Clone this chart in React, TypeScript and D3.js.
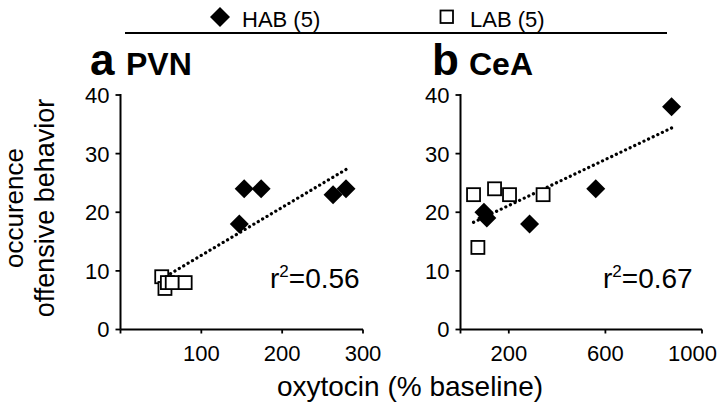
import React from "react";
import * as d3 from "d3";

// ---- data ----
const PVN_HAB_X = [147, 153, 174, 263, 279];
const PVN_HAB_Y = [18, 24, 24, 23, 24];
const PVN_LAB_X = [51, 55, 58, 64, 80];
const PVN_LAB_Y = [9, 7, 8, 8, 8];

const CEA_HAB_X = [97, 109, 286, 560, 874];
const CEA_HAB_Y = [20, 19, 18, 24, 38];
const CEA_LAB_X = [54, 72, 141, 203, 342];
const CEA_LAB_Y = [23, 14, 24, 23, 23];

const Y_TICKS = [0, 10, 20, 30, 40];
const PVN_X_TICKS = [100, 200, 300];
const CEA_X_TICKS = [200, 600, 1000];
const R2_LABELS = ["0.56", "0.67"];
const PANEL_LETTERS = ["a", "b"];
const PANEL_NAMES = ["PVN", "CeA"];
const LEGEND = ["HAB (5)", "LAB (5)"];

const FONT = "'Liberation Sans', Arial, Helvetica, sans-serif";
const TICK_FS = 22;

type Panel = {
  hx: number[]; hy: number[]; lx: number[]; ly: number[];
  domain: [number, number]; range: [number, number]; ticks: number[];
  letter: string; name: string; r2: string;
  letterX: number; nameX: number; r2X: number;
};

const panels: Panel[] = [
  {
    hx: PVN_HAB_X, hy: PVN_HAB_Y, lx: PVN_LAB_X, ly: PVN_LAB_Y,
    domain: [0, 300], range: [120.5, 363], ticks: PVN_X_TICKS,
    letter: PANEL_LETTERS[0], name: PANEL_NAMES[0], r2: R2_LABELS[0],
    letterX: 90, nameX: 126, r2X: 270,
  },
  {
    hx: CEA_HAB_X, hy: CEA_HAB_Y, lx: CEA_LAB_X, ly: CEA_LAB_Y,
    domain: [0, 1000], range: [460.5, 702], ticks: CEA_X_TICKS,
    letter: PANEL_LETTERS[1], name: PANEL_NAMES[1], r2: R2_LABELS[1],
    letterX: 432, nameX: 469, r2X: 603,
  },
];

const y = d3.scaleLinear().domain([0, 40]).range([329.5, 95]);

const diamond = (r: number) => `M0,${-r}L${r},0L0,${r}L${-r},0Z`;

function fit(xs: number[], ys: number[]) {
  const mx = d3.mean(xs) as number;
  const my = d3.mean(ys) as number;
  let sxy = 0, sxx = 0;
  xs.forEach((x, i) => {
    sxy += (x - mx) * (ys[i] - my);
    sxx += (x - mx) * (x - mx);
  });
  const b = sxy / sxx;
  const a = my - b * mx;
  return (x: number) => a + b * x;
}

function PanelView({ p }: { p: Panel }) {
  const x = d3.scaleLinear().domain(p.domain).range(p.range);
  const allX = [...p.hx, ...p.lx];
  const allY = [...p.hy, ...p.ly];
  const f = fit(allX, allY);
  const [x0, x1] = d3.extent(allX) as [number, number];
  const line = d3.line<number>().x((d) => x(d)).y((d) => y(f(d)));
  const ax = p.range[0];
  return (
    <g>
      {/* panel title */}
      <text x={p.letterX} y={75} fontFamily={FONT} fontWeight="bold" fontSize={44}>
        {p.letter}
      </text>
      <text x={p.nameX} y={75} fontFamily={FONT} fontWeight="bold" fontSize={32}>
        {p.name}
      </text>
      {/* y axis */}
      <line x1={ax} x2={ax} y1={y(0)} y2={y(40) - 1} stroke="#000" strokeWidth={2} />
      {Y_TICKS.map((t) => (
        <g key={t}>
          <line x1={ax - 5} x2={ax} y1={y(t)} y2={y(t)} stroke="#000" strokeWidth={1.8} />
          <text x={ax - 11} y={y(t)} dy="0.36em" textAnchor="end" fontFamily={FONT} fontSize={TICK_FS}>
            {t}
          </text>
        </g>
      ))}
      {/* x axis */}
      <line x1={ax} x2={p.range[1]} y1={y(0)} y2={y(0)} stroke="#000" strokeWidth={2} />
      {[p.domain[0], ...p.ticks].map((t) => (
        <line key={t} x1={x(t)} x2={x(t)} y1={y(0)} y2={y(0) + 4} stroke="#000" strokeWidth={1.8} />
      ))}
      {p.ticks.map((t) => {
        const w = String(t).length * 0.556 * TICK_FS;
        const cx = Math.min(x(t), 717 - w / 2);
        return (
          <text key={t} x={cx} y={361} textAnchor="middle" fontFamily={FONT} fontSize={TICK_FS}>
            {t}
          </text>
        );
      })}
      {/* trend line */}
      <path
        d={line([x0, x1]) as string}
        fill="none"
        stroke="#000"
        strokeWidth={3.2}
        strokeDasharray="0.1 5"
        strokeLinecap="round"
      />
      {/* LAB squares */}
      {p.lx.map((v, i) => (
        <rect
          key={"l" + i}
          x={x(v) - 6.5}
          y={y(p.ly[i]) - 6.5}
          width={13}
          height={13}
          fill="#fff"
          stroke="#000"
          strokeWidth={1.8}
        />
      ))}
      {/* HAB diamonds */}
      {p.hx.map((v, i) => (
        <path key={"h" + i} d={diamond(9.5)} transform={`translate(${x(v)},${y(p.hy[i])})`} fill="#000" />
      ))}
      {/* r2 */}
      <text x={p.r2X} y={288} fontFamily={FONT} fontSize={28}>
        r<tspan fontSize={17} dy={-11}>2</tspan>
        <tspan dy={11}>={p.r2}</tspan>
      </text>
    </g>
  );
}

export default function App() {
  return (
    <svg
      width={720}
      height={413}
      style={{ position: "absolute", left: 0, top: 0, background: "#fff" }}
    >
      <rect width={720} height={413} fill="#fff" />
      {/* legend */}
      <path d={diamond(10)} transform="translate(220,17)" fill="#000" />
      <text x={242} y={27} fontFamily={FONT} fontSize={22}>{LEGEND[0]}</text>
      <rect x={440.5} y={10.5} width={12.5} height={12.5} fill="#fff" stroke="#000" strokeWidth={1.8} />
      <text x={470} y={27} fontFamily={FONT} fontSize={22}>{LEGEND[1]}</text>
      <line x1={125} x2={667} y1={33} y2={33} stroke="#000" strokeWidth={2.2} />

      {panels.map((p, i) => (
        <PanelView key={i} p={p} />
      ))}

      {/* axis titles */}
      <text
        transform="translate(23,208) rotate(-90)"
        textAnchor="middle"
        fontFamily={FONT}
        fontSize={26}
      >
        occurence
      </text>
      <text
        transform="translate(54,208) rotate(-90)"
        textAnchor="middle"
        fontFamily={FONT}
        fontSize={27}
      >
        offensive behavior
      </text>
      <text x={410} y={396} textAnchor="middle" fontFamily={FONT} fontSize={28}>
        oxytocin (% baseline)
      </text>
    </svg>
  );
}
